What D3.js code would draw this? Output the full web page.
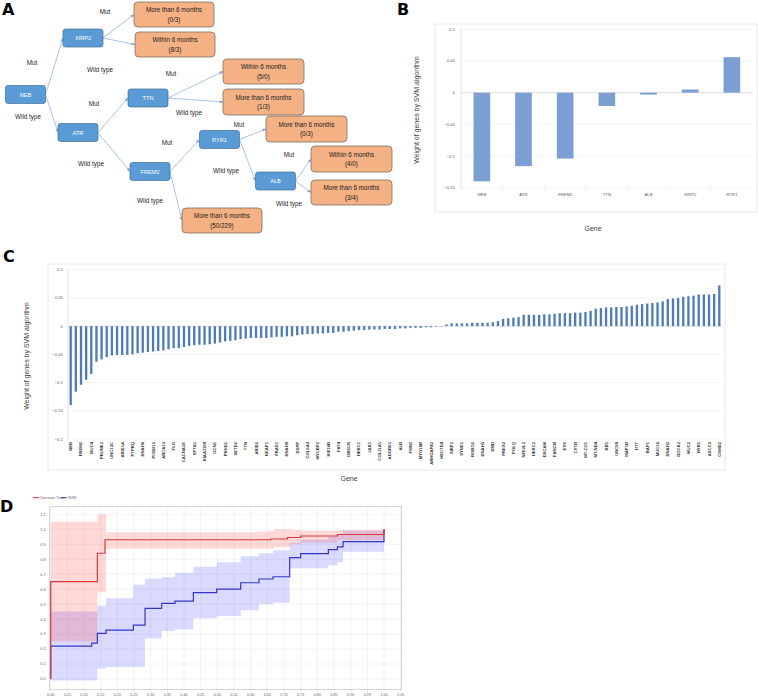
<!DOCTYPE html>
<html><head><meta charset="utf-8">
<script src="https://cdn.jsdelivr.net/npm/d3@7"></script>
<style>body{margin:0;background:#fff} svg{display:block} text{font-family:"Liberation Sans",Arial,sans-serif}</style>
</head><body>
<svg id="c" width="758" height="697"></svg>
<script>
// ================= DATA =================
// Panel A: decision tree
const treeGenes = ["NEB","XIRP2","ATR","TTN","FREM2","RYR1","ALB"];
const leafIds = ["L0","L1","L2","L3","L4","L5","L6","L7"];
const leafOutcomes = ["More than 6 months","Within 6 months","Within 6 months","More than 6 months","More than 6 months","Within 6 months","More than 6 months","More than 6 months"];
const leafCounts = ["(0/3)","(8/3)","(5/0)","(1/3)","(0/3)","(4/0)","(3/4)","(50/229)"];
const edgeFrom = ["NEB","NEB","XIRP2","XIRP2","ATR","ATR","TTN","TTN","FREM2","FREM2","RYR1","RYR1","ALB","ALB"];
const edgeTo   = ["XIRP2","ATR","L0","L1","TTN","FREM2","L2","L3","RYR1","L7","L4","ALB","L5","L6"];
const edgeLabel= ["Mut","Wild type","Mut","Wild type","Mut","Wild type","Mut","Wild type","Mut","Wild type","Mut","Wild type","Mut","Wild type"];

// Panel B: SVM weights of tree genes
const genesB = ["NEB","ATR","FREM2","TTN","ALB","XIRP2","RYR1"];
const weightsB = [-0.140,-0.116,-0.104,-0.021,-0.003,0.005,0.056];
const ticksB = [-0.15,-0.1,-0.05,0,0.05,0.1];

// Panel C: SVM weights of all genes (every other category labelled)
const tickLabelsC = ["NEB","FREM2","MUC4","PRUNE2","UNC13C","ARID1A","PTPRQ","DNAH6","PCDH15","ABCA13","FLG","CACNA1E","SPTA1","KIAA1109","GCN1","PKHD1","SETD2","TTN","ARID2","KEAP1","FRAS1","DNAH9","DSPP","COL6A3","MYCBP2","KIF26B","FAT4","OBSCN","HERC1","JAK1","COL11A1","ADGRV1","ALB","FMN2","MYO18B","ARHGAP42","HECTD4","XIRP2","SYNE1","ROBO2","DNAH5","DMD","PREX2","POLQ","NFE2L2","HERC2","DSCAM","FANCM","EYS","CYTB","MT-CO1","MT-ND4","RB1","UNC80","MAP1B","HTT","BAP1","MUC16","DNAH2","DOCK2","MUC2","RYR1","ASCC3","CSMD2"];
const weightsC = [
 -0.140,-0.116,-0.104,-0.095,-0.085,-0.063,-0.059,-0.055,-0.052,-0.051,
 -0.051,-0.051,-0.050,-0.048,-0.047,-0.046,-0.045,-0.044,-0.043,-0.041,
 -0.039,-0.039,-0.037,-0.035,-0.034,-0.033,-0.033,-0.032,-0.031,-0.029,
 -0.027,-0.026,-0.025,-0.023,-0.022,-0.021,-0.021,-0.021,-0.021,-0.020,
 -0.019,-0.019,-0.018,-0.018,-0.016,-0.015,-0.014,-0.014,-0.013,-0.013,
 -0.012,-0.012,-0.010,-0.010,-0.009,-0.008,-0.007,-0.007,-0.006,-0.006,
 -0.006,-0.005,-0.005,-0.005,-0.004,-0.004,-0.003,-0.003,-0.003,-0.002,
 -0.002,-0.001,-0.0005,0.003,0.005,0.005,0.005,0.005,0.006,0.006,
 0.006,0.006,0.007,0.009,0.013,0.014,0.015,0.016,0.020,0.020,
 0.020,0.020,0.021,0.021,0.022,0.023,0.023,0.023,0.024,0.024,
 0.025,0.027,0.031,0.032,0.033,0.033,0.034,0.034,0.035,0.036,
 0.038,0.039,0.040,0.041,0.042,0.044,0.048,0.049,0.050,0.052,
 0.053,0.054,0.056,0.056,0.056,0.057,0.072];
const ticksC = [-0.2,-0.15,-0.1,-0.05,0,0.05,0.1];

// Panel D: ROC curves (mean step curves and bands)
const dtX = [0,0,0.14,0.163,0.66,0.71,0.75,0.86,1.0];
const dtY = [0,0.65,0.84,0.93,0.935,0.945,0.955,0.965,1.0];
const dtBandX = [0,0.14,0.166,0.62,0.65,0.67,0.72,0.75,0.86,1.0];
const dtBandHi = [1.05,1.10,0.98,0.985,0.99,1.0,0.995,0.99,0.995,0.995];
const dtBandLo = [0.25,0.58,0.87,0.87,0.87,0.88,0.90,0.91,0.93,0.93];
const svmX = [0,0,0.123,0.14,0.166,0.248,0.283,0.333,0.373,0.428,0.498,0.57,0.625,0.667,0.717,0.75,0.833,0.86,0.877,1.0];
const svmY = [0,0.22,0.24,0.305,0.327,0.36,0.472,0.505,0.52,0.577,0.60,0.643,0.668,0.683,0.81,0.837,0.864,0.882,0.917,1.0];
const svmBandX = [0,0.14,0.166,0.248,0.283,0.333,0.373,0.428,0.498,0.57,0.625,0.667,0.717,0.75,0.833,0.86,0.877,1.0];
const svmBandHi = [0.45,0.49,0.54,0.63,0.67,0.68,0.71,0.75,0.78,0.82,0.84,0.86,0.91,0.93,0.95,0.97,0.99,0.99];
const svmBandLo = [-0.01,0.07,0.08,0.08,0.27,0.32,0.33,0.405,0.42,0.46,0.50,0.51,0.74,0.74,0.76,0.78,0.85,0.85];
const ticksDX = d3.range(0,22).map(i=>i*0.05);
const ticksDY = d3.range(0,12).map(i=>i*0.1);

// ================= DRAW =================
const svg = d3.select("#c");
const axisGrey = "#595959";

// panel letters
[["A",2,15],["B",397,15],["C",3,262],["D",0,512]].forEach(([t,x,y])=>{
  svg.append("text").attr("x",x).attr("y",y).text(t)
    .style("font-family","'DejaVu Sans',sans-serif").style("font-weight","bold").style("font-size","16px");
});

// ---------- Panel A ----------
const nodeLayout = {NEB:[25.5,94.5],XIRP2:[83,38],ATR:[78,132.5],TTN:[148,98],FREM2:[150,171.5],RYR1:[219.5,139.5],ALB:[275.5,181]};
const leafLayout = {L0:[134,2,80,25],L1:[135,32,80,25],L2:[223,59,81,25],L3:[223,89,81,26],L4:[266,116,81,26],L5:[311,146,81,26],L6:[311,180,81,25],L7:[182,208,80,25]};
const edgeLabelPos = [[32,63],[28,117],[105,12],[100,70],[94,104],[91,164],[171,74],[189,113],[167,143],[150,201],[239,125],[226,171],[289,155],[289,204]];
const NW=40, NH=18;
const A = svg.append("g");
const defs = svg.append("defs");
defs.append("marker").attr("id","arr").attr("viewBox","0 0 10 10").attr("refX",9).attr("refY",5)
  .attr("markerWidth",5).attr("markerHeight",5).attr("orient","auto")
  .append("path").attr("d","M0,1 L10,5 L0,9 z").attr("fill","#7fa8da");
function anchorRight(id){ if(nodeLayout[id]){const [cx,cy]=nodeLayout[id]; return [cx+NW/2,cy];} }
function anchorLeft(id){ if(nodeLayout[id]){const [cx,cy]=nodeLayout[id]; return [cx-NW/2,cy];} const [x,y,w,h]=leafLayout[id]; return [x,y+h/2]; }
edgeFrom.forEach((f,i)=>{
  const p=anchorRight(f), q=anchorLeft(edgeTo[i]);
  A.append("line").attr("x1",p[0]).attr("y1",p[1]).attr("x2",q[0]).attr("y2",q[1])
   .attr("stroke","#8fb4e3").attr("stroke-width",0.8).attr("marker-end","url(#arr)");
  A.append("text").attr("x",edgeLabelPos[i][0]).attr("y",edgeLabelPos[i][1]+2.3).attr("text-anchor","middle")
   .style("font-size","6.3px").attr("fill","#222").text(edgeLabel[i]);
});
treeGenes.forEach(g=>{
  const [cx,cy]=nodeLayout[g];
  A.append("rect").attr("x",cx-NW/2).attr("y",cy-NH/2).attr("width",NW).attr("height",NH).attr("rx",2.5)
   .attr("fill","#5b9bd5").attr("stroke","#41719c").attr("stroke-width",0.7);
  A.append("text").attr("x",cx).attr("y",cy+2).attr("text-anchor","middle").attr("fill","#fff")
   .style("font-size","5.6px").text(g);
});
leafIds.forEach((id,i)=>{
  const [x,y,w,h]=leafLayout[id];
  A.append("rect").attr("x",x).attr("y",y).attr("width",w).attr("height",h).attr("rx",4)
   .attr("fill","#f4b183").attr("stroke","#7f6f63").attr("stroke-width",0.8);
  A.append("text").attr("x",x+w/2).attr("y",y+h/2-2.3).attr("text-anchor","middle").attr("fill","#222")
   .style("font-size","6.3px").text(leafOutcomes[i]);
  A.append("text").attr("x",x+w/2).attr("y",y+h/2+7.2).attr("text-anchor","middle").attr("fill","#222")
   .style("font-size","6.3px").text(leafCounts[i]);
});

// ---------- Panel B ----------
const B = svg.append("g");
B.append("rect").attr("x",435).attr("y",24).attr("width",322).attr("height",188).attr("fill","#fff").attr("stroke","#e3e3e3").attr("stroke-width",0.8);
const xB = d3.scaleBand().domain(genesB).range([461,752.7]).paddingInner(0.6).paddingOuter(0.3);
const yB = d3.scaleLinear().domain([-0.15,0.1]).range([187.7,29.3]);
ticksB.forEach(t=>{
  B.append("line").attr("x1",461).attr("x2",752.7).attr("y1",yB(t)).attr("y2",yB(t))
   .attr("stroke",t===0?"#cfcfcf":"#ececec").attr("stroke-width",0.7);
  B.append("text").attr("x",455).attr("y",yB(t)+1.5).attr("text-anchor","end").attr("fill",axisGrey)
   .style("font-size","4.3px").text(t===0?"0":d3.format("")(t));
});
B.append("line").attr("x1",461).attr("x2",461).attr("y1",yB(0.1)).attr("y2",yB(-0.15)).attr("stroke","#d9d9d9").attr("stroke-width",0.7);
genesB.forEach((g,i)=>{
  B.append("line").attr("x1",xB(g)-xB.step()*0.3).attr("x2",xB(g)-xB.step()*0.3).attr("y1",yB(-0.15)).attr("y2",yB(-0.15)+2.5).attr("stroke","#d9d9d9").attr("stroke-width",0.6);
});
B.selectAll("rect.bar").data(weightsB).enter().append("rect").attr("class","bar")
 .attr("x",(d,i)=>xB(genesB[i])).attr("width",xB.bandwidth())
 .attr("y",d=>yB(Math.max(0,d))).attr("height",d=>Math.abs(yB(d)-yB(0)))
 .attr("fill","#7c9fd3");
genesB.forEach(g=>{
  B.append("text").attr("x",xB(g)+xB.bandwidth()/2).attr("y",195.5).attr("text-anchor","middle").attr("fill",axisGrey)
   .style("font-size","4.3px").text(g);
});
B.append("text").attr("transform","translate(419,110) rotate(-90)").attr("text-anchor","middle").attr("fill","#404040")
 .style("font-size","7px").text("Weight of genes by SVM algorithm");
B.append("text").attr("x",593).attr("y",231).attr("text-anchor","middle").attr("fill","#404040").style("font-size","7px").text("Gene");

// ---------- Panel C ----------
const C = svg.append("g");
C.append("rect").attr("x",48).attr("y",264).attr("width",677).attr("height",206).attr("fill","#fff").attr("stroke","#e3e3e3").attr("stroke-width",0.8);
const idxC = d3.range(weightsC.length);
const xC = d3.scaleBand().domain(idxC).range([68,722]).paddingInner(0.55).paddingOuter(0.3);
const yC = d3.scaleLinear().domain([-0.2,0.1]).range([439,269.7]);
ticksC.forEach(t=>{
  C.append("line").attr("x1",68).attr("x2",722).attr("y1",yC(t)).attr("y2",yC(t))
   .attr("stroke",t===0?"#cfcfcf":"#ececec").attr("stroke-width",0.7);
  C.append("text").attr("x",63).attr("y",yC(t)+1.5).attr("text-anchor","end").attr("fill",axisGrey)
   .style("font-size","4.3px").text(t===0?"0":d3.format("")(t));
});
C.append("line").attr("x1",68).attr("x2",68).attr("y1",yC(0.1)).attr("y2",yC(-0.2)).attr("stroke","#d9d9d9").attr("stroke-width",0.7);
C.selectAll("rect.bar").data(weightsC).enter().append("rect").attr("class","bar")
 .attr("x",(d,i)=>xC(i)).attr("width",xC.bandwidth())
 .attr("y",d=>yC(Math.max(0,d))).attr("height",d=>Math.max(0.3,Math.abs(yC(d)-yC(0))))
 .attr("fill","#4f7cb9");
tickLabelsC.forEach((g,k)=>{
  const i=k*2;
  const cx=xC(i)+xC.bandwidth()/2;
  C.append("text").attr("transform",`translate(${cx+1.5},442) rotate(-90)`).attr("text-anchor","end")
   .attr("fill","#333").style("font-size","4.2px").style("font-weight","bold").text(g);
});
C.append("text").attr("transform","translate(29,356) rotate(-90)").attr("text-anchor","middle").attr("fill","#404040")
 .style("font-size","7px").text("Weight of genes by SVM algorithm");
C.append("text").attr("x",349).attr("y",481).attr("text-anchor","middle").attr("fill","#404040").style("font-size","7px").text("Gene");

// ---------- Panel D ----------
const D = svg.append("g");
const xD = d3.scaleLinear().domain([0,1.05]).range([50.7,400.7]);
const yD = d3.scaleLinear().domain([0,1.1]).range([679,514.3]);
const px0=49.3, px1=401.3, py0=506.7, py1=689.3;
D.append("rect").attr("x",px0).attr("y",py0).attr("width",px1-px0).attr("height",py1-py0).attr("fill","#fff");
ticksDX.forEach(t=>{
  D.append("line").attr("x1",xD(t)).attr("x2",xD(t)).attr("y1",py0).attr("y2",py1).attr("stroke","#ebebeb").attr("stroke-width",0.6);
  D.append("line").attr("x1",xD(t)).attr("x2",xD(t)).attr("y1",py1).attr("y2",py1+2).attr("stroke","#bbb").attr("stroke-width",0.5);
  D.append("text").attr("x",xD(t)).attr("y",695.5).attr("text-anchor","middle").attr("fill","#666").style("font-size","3.8px").text(d3.format(".2f")(t));
});
ticksDY.forEach(t=>{
  D.append("line").attr("x1",px0).attr("x2",px1).attr("y1",yD(t)).attr("y2",yD(t)).attr("stroke","#ebebeb").attr("stroke-width",0.6);
  D.append("text").attr("x",45.5).attr("y",yD(t)+1.4).attr("text-anchor","end").attr("fill","#666").style("font-size","3.8px").text(d3.format(".1f")(t));
});
const bandArea = d3.area().curve(d3.curveStepAfter).x(d=>xD(d[0])).y0(d=>yD(d[1])).y1(d=>yD(d[2]));
D.append("path").datum(svmBandX.map((x,i)=>[x,svmBandLo[i],svmBandHi[i]]))
 .attr("d",bandArea).attr("fill","rgb(70,70,255)").attr("fill-opacity",0.2);
D.append("path").datum(dtBandX.map((x,i)=>[x,dtBandLo[i],dtBandHi[i]]))
 .attr("d",bandArea).attr("fill","rgb(255,60,60)").attr("fill-opacity",0.2);
const stepLine = d3.line().curve(d3.curveStepAfter).x(d=>xD(d[0])).y(d=>yD(d[1]));
D.append("path").datum(svmX.map((x,i)=>[x,svmY[i]])).attr("d",stepLine).attr("fill","none").attr("stroke","#3535c8").attr("stroke-width",1.2);
D.append("path").datum(dtX.map((x,i)=>[x,dtY[i]])).attr("d",stepLine).attr("fill","none").attr("stroke","#d93a3a").attr("stroke-width",1.2);
D.append("rect").attr("x",px0).attr("y",py0).attr("width",px1-px0).attr("height",py1-py0).attr("fill","none").attr("stroke","#c4c4c4").attr("stroke-width",0.7);
// legend
D.append("line").attr("x1",33).attr("x2",39.5).attr("y1",497.7).attr("y2",497.7).attr("stroke","#d93a3a").attr("stroke-width",1);
D.append("text").attr("x",40.5).attr("y",499).attr("fill","#666").style("font-size","3.8px").text("Decision Tree");
D.append("line").attr("x1",61).attr("x2",67).attr("y1",497.7).attr("y2",497.7).attr("stroke","#3535c8").attr("stroke-width",1);
D.append("text").attr("x",68).attr("y",499).attr("fill","#666").style("font-size","3.8px").text("SVM");
</script>
</body></html>
